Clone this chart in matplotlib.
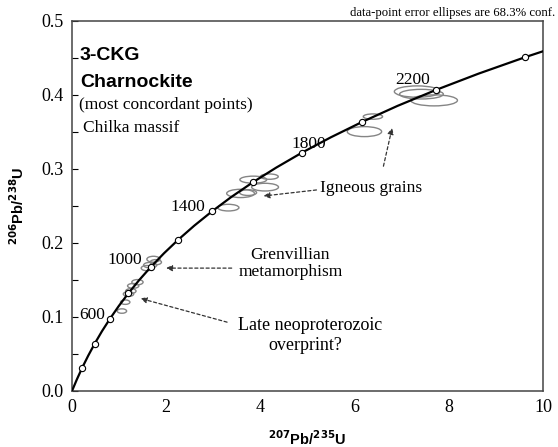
import matplotlib
matplotlib.use("Agg")
from matplotlib import pyplot as plt
from matplotlib.patches import Ellipse

curve_x = [0.0, 0.1035, 0.2177, 0.3438, 0.4828, 0.6362, 0.8056, 0.9925, 1.1988,
           1.4264, 1.6774, 1.9546, 2.2604, 2.5977, 2.9699, 3.3810, 3.8344, 4.3348,
           4.8868, 5.4960, 6.1683, 6.9102, 7.7288, 8.6322, 9.6290, 10.0]
curve_y = [0.0, 0.0156, 0.0315, 0.0476, 0.0640, 0.0807, 0.0975, 0.1147, 0.1321,
           0.1498, 0.1678, 0.1861, 0.2046, 0.2234, 0.2425, 0.2620, 0.2817, 0.3017,
           0.3221, 0.3427, 0.3637, 0.3851, 0.4067, 0.4287, 0.4511, 0.4589]

# age markers every 200 Ma
tick_x = curve_x[2:25:2]
tick_y = curve_y[2:25:2]

age_labels = ["600", "1000", "1400", "1800", "2200"]
age_lx = [0.70, 1.49, 2.82, 5.03, 7.23]
age_ly = [0.103, 0.177, 0.249, 0.334, 0.420]
age_ha = ["right", "right", "right", "center", "center"]

# error ellipses: centre, full width, full height
ell_x = [1.06, 1.13, 1.20, 1.25, 1.30, 1.39, 1.59, 1.66, 1.73, 1.78,
         3.32, 3.58, 3.74, 3.85, 4.10, 4.19,
         6.21, 6.39, 7.33, 7.42, 7.69]
ell_y = [0.108, 0.120, 0.131, 0.135, 0.142, 0.147, 0.166, 0.170, 0.178, 0.174,
         0.2477, 0.2669, 0.268, 0.2855, 0.2754, 0.2896,
         0.3504, 0.3707, 0.4045, 0.401, 0.3926]
ell_w = [0.20, 0.20, 0.22, 0.22, 0.24, 0.24, 0.24, 0.28, 0.28, 0.24,
         0.45, 0.59, 0.36, 0.57, 0.57, 0.38,
         0.73, 0.41, 0.97, 0.93, 0.99]
ell_h = [0.0060, 0.0060, 0.0065, 0.0065, 0.0065, 0.0070, 0.0070, 0.0075, 0.0080, 0.0070,
         0.0090, 0.0112, 0.0077, 0.0095, 0.0104, 0.0072,
         0.0135, 0.0072, 0.0153, 0.0130, 0.0149]

fig = plt.figure(figsize=(5.58, 4.47), dpi=100)
ax = fig.add_axes([0.129, 0.1253, 0.844, 0.828])

serif = "Liberation Serif"
sans = "Liberation Sans"

for x, y, w, h in zip(ell_x, ell_y, ell_w, ell_h):
    ax.add_patch(Ellipse((x, y), w, h, facecolor="none", edgecolor="#858585", lw=1.0, zorder=2))

ax.plot(curve_x, curve_y, color="black", lw=1.6, zorder=3)
ax.plot(tick_x, tick_y, "o", ms=4.5, mfc="white", mec="black", mew=0.8, zorder=4)

for lab, x, y, ha in zip(age_labels, age_lx, age_ly, age_ha):
    ax.text(x, y, lab, ha=ha, va="center", fontsize=12.5, family=serif, zorder=5)

ax.set_xlim(0, 10)
ax.set_ylim(0, 0.5)
ax.set_xticks([0, 2, 4, 6, 8, 10])
ax.set_yticks([0, 0.1, 0.2, 0.3, 0.4, 0.5])
ax.set_yticklabels(["0.0", "0.1", "0.2", "0.3", "0.4", "0.5"])
ax.set_yticks([0.05, 0.15, 0.25, 0.35, 0.45], minor=True)
ax.tick_params(axis="y", which="both", direction="in", length=4, width=0.8, pad=6)
ax.tick_params(axis="x", length=0, pad=6)
for lab in ax.get_xticklabels() + ax.get_yticklabels():
    lab.set_family(serif)
    lab.set_fontsize(13)
for s in ax.spines.values():
    s.set_color("#444444")
    s.set_linewidth(1.1)

ax.set_xlabel(r"$^{\mathbf{207}}$Pb/$^{\mathbf{235}}$U", family=sans, fontweight="bold", fontsize=10.5, labelpad=9)
ax.set_ylabel(r"$^{\mathbf{206}}$Pb/$^{\mathbf{238}}$U", family=sans, fontweight="bold", fontsize=10.5, labelpad=10)

# sample text block
ax.text(0.17, 0.453, "3-CKG", family=sans, fontweight="bold", fontsize=14, va="center")
ax.text(0.17, 0.417, "Charnockite", family=sans, fontweight="bold", fontsize=14, va="center")
ax.text(0.15, 0.386, "(most concordant points)", family=serif, fontsize=12.5, va="center")
ax.text(0.23, 0.355, "Chilka massif", family=serif, fontsize=12.5, va="center")

fig.text(0.995, 0.971, "data-point error ellipses are 68.3% conf.", family=serif, fontsize=9.2,
         ha="right", va="center")

# annotations with dashed arrows
arrow = dict(arrowstyle="-|>", linestyle=(0, (2.5, 2)), color="#333333", lw=0.9, mutation_scale=9)
ax.text(6.35, 0.274, "Igneous grains", family=serif, fontsize=12.5, ha="center", va="center")
ax.annotate("", xy=(4.01, 0.263), xytext=(5.25, 0.272), arrowprops=arrow)
ax.annotate("", xy=(6.81, 0.359), xytext=(6.6, 0.30), arrowprops=arrow)

ax.text(4.63, 0.184, "Grenvillian", family=serif, fontsize=12.5, ha="center", va="center")
ax.text(4.65, 0.161, "metamorphism", family=serif, fontsize=12.5, ha="center", va="center")
ax.annotate("", xy=(1.94, 0.166), xytext=(3.45, 0.166), arrowprops=arrow)

ax.text(5.05, 0.088, "Late neoproterozoic", family=serif, fontsize=13, ha="center", va="center")
ax.text(4.95, 0.062, "overprint?", family=serif, fontsize=13, ha="center", va="center")
ax.annotate("", xy=(1.40, 0.126), xytext=(3.35, 0.092), arrowprops=arrow)

fig.savefig("out.png", dpi=100)
